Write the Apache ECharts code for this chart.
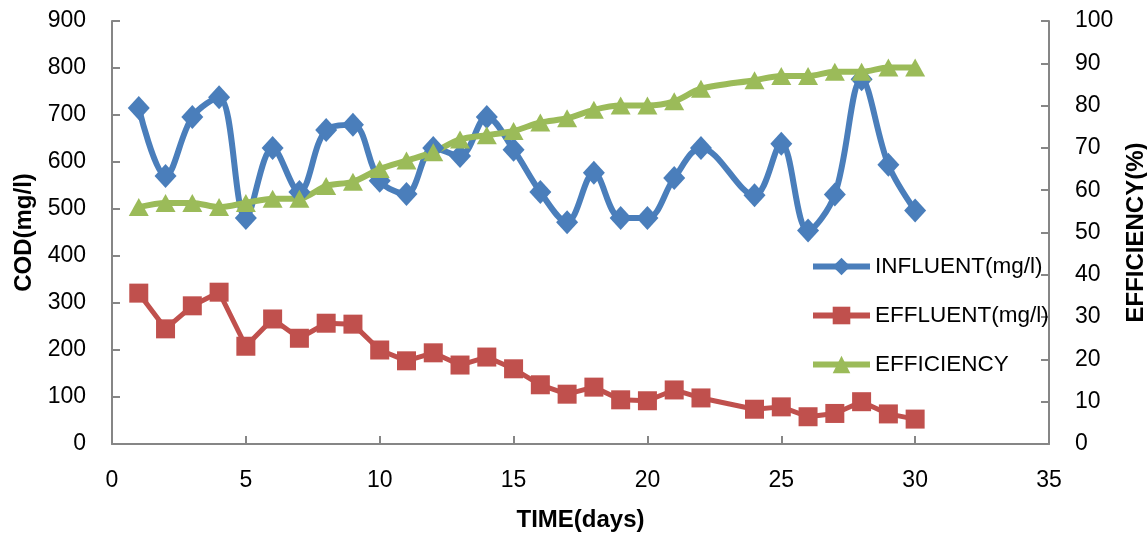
<!DOCTYPE html>
<html>
<head>
<meta charset="utf-8">
<script src="https://cdn.jsdelivr.net/npm/echarts@6/dist/echarts.min.js"></script>
<style>
html,body{margin:0;padding:0;background:#fff;}
#chart{width:1147px;height:536px;}
</style>
</head>
<body>
<div id="chart"></div>
<script>
const days = [1,2,3,4,5,6,7,8,9,10,11,12,13,14,15,16,17,18,19,20,21,22,24,25,26,27,28,29,30];
const influent = [715,570,696,738,481,630,536,668,679,560,532,630,613,696,626,536,472,577,481,481,566,630,529,639,454,531,776,594,497];
const effluent = [321,245,294,323,208,266,225,257,255,200,177,194,168,185,160,126,106,121,94,92,115,98,74,79,58,65,90,64,53];
const efficiency = [56,57,57,56,57,58,58,61,62,65,67,69,72,73,74,76,77,79,80,80,81,84,86,87,87,88,88,89,89];
const leftTicks = {min:0, max:900, interval:100};
const rightTicks = {min:0, max:100, interval:10};
const xTicks = {min:0, max:35, interval:5};

const pair = arr => days.map((d,i)=>[d, arr[i]]);
const FONT = 'Liberation Sans';
const axisColor = '#868686';

const chart = echarts.init(document.getElementById('chart'));
chart.setOption({
  animation:false,
  textStyle:{fontFamily:FONT},
  grid:{left:112, right:98, top:21, bottom:92, containLabel:false, outerBoundsMode:'none'},
  legend:{
    orient:'vertical', left:810, top:255, padding:0,
    itemWidth:57, itemHeight:22, itemGap:26,
    lineStyle:{width:6},
    textStyle:{fontFamily:FONT, fontSize:22.5, color:'#000', lineHeight:22},
    data:['INFLUENT(mg/l)','EFFLUENT(mg/l)','EFFICIENCY']
  },
  xAxis:{
    type:'value', min:xTicks.min, max:xTicks.max, interval:xTicks.interval,
    name:'TIME(days)', nameLocation:'middle', nameGap:64,
    nameTextStyle:{fontFamily:FONT, fontSize:24, fontWeight:'bold', color:'#000'},
    axisLine:{show:true, lineStyle:{color:axisColor, width:2}},
    axisTick:{show:true, inside:true, length:8, lineStyle:{color:axisColor, width:2}},
    axisLabel:{fontFamily:FONT, fontSize:23, color:'#000', margin:25},
    splitLine:{show:false}
  },
  yAxis:[{
    type:'value', min:leftTicks.min, max:leftTicks.max, interval:leftTicks.interval,
    name:'COD(mg/l)', nameLocation:'middle', nameGap:69, nameRotate:90,
    nameTextStyle:{fontFamily:FONT, fontSize:24, fontWeight:'bold', color:'#000'},
    axisLine:{show:true, lineStyle:{color:axisColor, width:2}},
    axisTick:{show:true, inside:true, length:8, lineStyle:{color:axisColor, width:2}},
    axisLabel:{fontFamily:FONT, fontSize:23, color:'#000', margin:26},
    splitLine:{show:false}
  },{
    type:'value', min:rightTicks.min, max:rightTicks.max, interval:rightTicks.interval,
    position:'right',
    name:'EFFICIENCY(%)', nameLocation:'middle', nameGap:69, nameRotate:90,
    nameTextStyle:{fontFamily:FONT, fontSize:24, fontWeight:'bold', color:'#000'},
    axisLine:{show:true, lineStyle:{color:axisColor, width:2}},
    axisTick:{show:true, inside:true, length:8, lineStyle:{color:axisColor, width:2}},
    axisLabel:{fontFamily:FONT, fontSize:23, color:'#000', margin:26},
    splitLine:{show:false}
  }],
  series:[{
    name:'INFLUENT(mg/l)', type:'line', yAxisIndex:0, data:pair(influent),
    smooth:0.35, symbol:'diamond', symbolSize:[22,24],
    lineStyle:{color:'#4A7EBB', width:6}, itemStyle:{color:'#4A7EBB'}
  },{
    name:'EFFLUENT(mg/l)', type:'line', yAxisIndex:0, data:pair(effluent),
    smooth:false, symbol:'rect', symbolSize:19,
    lineStyle:{color:'#C0504D', width:5}, itemStyle:{color:'#C0504D'}
  },{
    name:'EFFICIENCY', type:'line', yAxisIndex:1, data:pair(efficiency),
    smooth:0.3, symbol:'triangle', symbolSize:[20,18],
    lineStyle:{color:'#9BBB59', width:6}, itemStyle:{color:'#9BBB59'}
  }]
});
</script>
</body>
</html>
